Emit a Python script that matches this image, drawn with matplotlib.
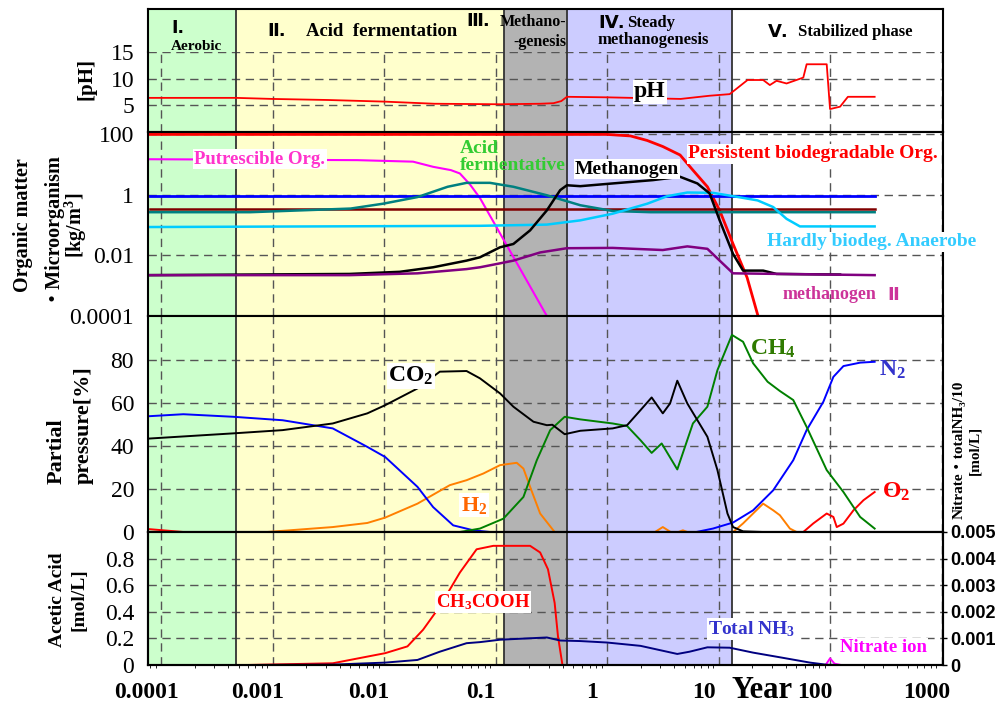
import matplotlib
matplotlib.use('Agg')
import matplotlib.pyplot as plt
import matplotlib.transforms as mtransforms
import numpy as np

plt.rcParams['font.family'] = ['Liberation Serif', 'Noto Sans CJK JP', 'DejaVu Sans']
plt.rcParams['mathtext.fontset'] = 'custom'
plt.rcParams['mathtext.rm'] = 'Liberation Serif:bold'
plt.rcParams['mathtext.it'] = 'Liberation Serif:bold'
plt.rcParams['mathtext.bf'] = 'Liberation Serif:bold'

W, H = 999, 704
ROMAN = ['DejaVu Sans', 'Noto Sans CJK JP']

# --- phases (log10 year) ---
phase_edges = [-4.117, -3.327, -0.924, -0.359, 1.121, 3.013]
phase_colors = ['#CCFFCC', '#FFFFCC', '#B3B3B3', '#CCCCFF', '#FFFFFF']
decades = [1e-4, 1e-3, 1e-2, 1e-1, 1, 10, 100, 1000]
decade_labels = ['0.0001', '0.001', '0.01', '0.1', '1', '10', '100', '1000']

# --- pH ---
ph_t = [-4.10, -3.33, -3.00, -2.50, -2.00, -1.55, -0.96, -0.60, -0.48, -0.41, -0.36, 0.0,
        0.66, 0.92, 1.10, 1.26, 1.40, 1.46, 1.52, 1.61, 1.76, 1.79, 1.97, 2.00, 2.09, 2.16, 2.40]
ph_v = [6.4, 6.4, 6.2, 6.0, 5.7, 5.3, 5.2, 5.3, 5.4, 5.8, 6.6, 6.5,
        6.2, 6.8, 7.1, 9.75, 9.75, 8.8, 9.6, 9.1, 10.2, 12.7, 12.7, 4.3, 4.75, 6.6, 6.6]

# --- organic matter / microorganism (log10 kg/m3) ---
persist_t = [-4.10, 0.00, 0.21, 0.36, 0.50, 0.655, 0.77, 0.90, 1.01, 1.13, 1.256, 1.354]
persist_c = [2.0, 2.0, 1.95, 1.80, 1.60, 1.32, 0.82, 0.27, -0.51, -1.62, -2.73, -4.0]
putres_t = [-4.10, -2.24, -1.74, -1.56, -1.40, -1.32, -1.23, -1.14, -0.54]
putres_c = [1.18, 1.15, 1.10, 0.93, 0.82, 0.71, 0.35, -0.10, -4.0]
hydro_t = [-4.10, 2.40]
hydro_c = [-0.044, -0.044]
maroon_t = [-4.10, 2.40]
maroon_c = [-0.466, -0.466]
acidf_t = [-4.10, -3.20, -2.30, -2.01, -1.70, -1.43, -1.26, -1.05, -0.84, -0.54, -0.24, 0.05, 0.39, 2.40]
acidf_c = [-0.57, -0.57, -0.45, -0.29, -0.07, 0.27, 0.40, 0.40, 0.27, -0.01, -0.34, -0.53, -0.57, -0.57]
hardly_t = [-4.10, -1.14, -0.54, -0.24, 0.05, 0.36, 0.54, 0.72, 0.95, 1.13, 1.35, 1.49, 1.61, 1.73, 2.40]
hardly_c = [-1.06, -1.02, -0.98, -0.84, -0.62, -0.29, -0.04, 0.08, 0.07, -0.04, -0.18, -0.40, -0.79, -1.04, -1.04]
meth_t = [-4.10, -2.31, -1.86, -1.56, -1.26, -1.14, -0.96, -0.84, -0.69, -0.54, -0.42, -0.36, -0.24,
          0.05, 0.41, 0.655, 0.81, 0.92, 1.01, 1.13, 1.22, 1.40, 1.52, 2.09]
meth_c = [-2.65, -2.61, -2.54, -2.39, -2.17, -2.06, -1.73, -1.62, -1.17, -0.51, 0.16, 0.32, 0.29,
          0.38, 0.49, 0.60, 0.38, 0.05, -0.84, -1.95, -2.50, -2.50, -2.61, -2.63]
meth2_t = [-4.10, -2.31, -1.70, -1.26, -1.14, -0.96, -0.84, -0.60, -0.36, 0.05, 0.50, 0.72, 0.90, 1.01, 1.13, 2.40]
meth2_c = [-2.65, -2.65, -2.59, -2.45, -2.39, -2.26, -2.17, -1.90, -1.76, -1.75, -1.82, -1.70, -1.78, -2.17, -2.59, -2.65]

# --- partial pressure [%] ---
co2_t = [-4.10, -3.35, -2.91, -2.46, -2.15, -1.99, -1.70, -1.50, -1.26, -1.14, -0.96, -0.84, -0.66, -0.54,
         -0.49, -0.38, -0.24, 0.05, 0.18, 0.30, 0.40, 0.50, 0.565, 0.63, 0.72, 0.90, 0.99, 1.08, 1.13, 1.22, 1.40]
co2_v = [43.5, 45.9, 47.4, 50.5, 55.2, 59.0, 66.8, 74.6, 74.9, 71.5, 64.5, 58.3, 51.3, 49.7,
         49.9, 45.5, 47.1, 48.2, 49.7, 56.7, 62.6, 55.2, 59.8, 70.4, 59.8, 44.3, 28.8, 8.6, 2.3, 0.3, 0.0]
n2_t = [-4.10, -3.80, -3.35, -2.91, -2.46, -2.15, -1.99, -1.70, -1.56, -1.38, -1.20, -1.05, 0.80, 0.95,
        1.13, 1.31, 1.49, 1.67, 1.79, 1.94, 2.03, 2.12, 2.27, 2.40]
n2_v = [53.9, 54.8, 53.6, 52.0, 48.2, 39.6, 34.9, 21.0, 11.6, 3.1, 0.8, 0.0, 0.0, 1.6,
        4.4, 10.1, 19.4, 33.4, 47.4, 60.6, 72.2, 77.2, 78.8, 79.2]
ch4_t = [-4.10, -1.32, -1.14, -0.93, -0.75, -0.63, -0.51, -0.38, -0.24, 0.05, 0.18, 0.30, 0.40, 0.49, 0.63,
         0.77, 0.90, 0.99, 1.12, 1.22, 1.31, 1.44, 1.55, 1.67, 1.79, 1.97, 2.12, 2.27, 2.40]
ch4_v = [0, 0, 1.6, 6.2, 16.3, 33.4, 47.4, 53.6, 52.4, 50.5, 49.3, 42.7, 36.8, 41.2, 29.1,
         50.5, 58.3, 75.3, 91.7, 88.5, 78.5, 69.9, 65.6, 61.4, 48.9, 28.8, 18.6, 7.0, 1.6]
h2_t = [-4.10, -3.05, -2.46, -2.15, -1.99, -1.70, -1.41, -1.26, -1.11, -0.96, -0.81, -0.75, -0.69, -0.60, -0.47,
        0.43, 0.50, 0.57, 0.64, 0.68, 0.72, 1.13, 1.22, 1.40, 1.49, 1.55, 1.64, 1.70, 2.40]
h2_v = [0, 0, 2.3, 4.2, 6.7, 13.2, 21.8, 24.1, 27.2, 31.1, 32.2, 29.5, 21.0, 8.6, 0,
        0, 2.3, 0, 0, 0.8, 0, 0, 4.0, 13.2, 10.1, 7.8, 1.6, 0, 0]
o2_t = [-4.10, -3.80, 1.76, 1.85, 1.97, 2.03, 2.06, 2.12, 2.21, 2.30, 2.40]
o2_v = [1.3, 0, 0, 4.0, 8.6, 7.0, 2.3, 3.9, 10.1, 14.8, 18.6]

# --- acetic acid [mol/L] and nitrate / NH3 [mol/L] ---
acetic_t = [-3.23, -2.46, -1.99, -1.79, -1.65, -1.50, -1.32, -1.17, -1.02, -0.69, -0.60, -0.53, -0.47, -0.44, -0.40]
acetic_v = [0, 0.013, 0.089, 0.14, 0.265, 0.44, 0.695, 0.87, 0.896, 0.896, 0.846, 0.72, 0.467, 0.215, 0]
nh3_t = [-3.23, -2.46, -1.99, -1.70, -1.50, -1.26, -1.14, -0.96, -0.54, -0.42, -0.24, 0.0, 0.30, 0.63,
         0.74, 0.90, 1.10, 1.31, 1.55, 1.82, 1.97, 2.09, 2.40]
nh3_v = [0, 0.000015, 0.00009, 0.00019, 0.0005, 0.00082, 0.00086, 0.00095, 0.001035, 0.00092, 0.0009, 0.000845,
         0.00072, 0.000415, 0.0005, 0.000665, 0.00065, 0.000465, 0.00029, 0.00009, 0.00001, 0, 0]
nitrate_t = [-4.10, 1.96, 2.00, 2.04, 2.10, 2.40]
nitrate_v = [0, 0, 0.00025, 0.00005, 0, 0]


def yr(t):
    return 10 ** np.asarray(t)


fig = plt.figure(figsize=(W / 100, H / 100), dpi=100)
X_LIM = (10 ** phase_edges[0], 10 ** phase_edges[-1])


def add_panel(top, bottom):
    ax = fig.add_axes([148 / W, 1 - bottom / H, 795 / W, (bottom - top) / H])
    ax.set_xscale('log')
    ax.set_xlim(*X_LIM)
    for i, c in enumerate(phase_colors):
        ax.axvspan(10 ** phase_edges[i], 10 ** phase_edges[i + 1], color=c, zorder=0, lw=0)
    for e in phase_edges[1:-1]:
        ax.axvline(10 ** e, color='#333333', lw=1.3, zorder=1)
    for s in ax.spines.values():
        s.set_linewidth(1.5)
        s.set_color('black')
    ax.tick_params(length=0, labelsize=17, pad=10)
    ax.minorticks_off()
    return ax


def grid(ax):
    ax.set_axisbelow(True)
    ax.set_xticks(decades)
    ax.grid(True, which='major', color='#555555', lw=1.0, ls=(0, (6, 4)))


def ftext(x, y, s, **kw):
    kw.setdefault('ha', 'center')
    kw.setdefault('va', 'center')
    kw.setdefault('fontweight', 'bold')
    return fig.text(x / W, 1 - y / H, s, **kw)


white = dict(facecolor='white', edgecolor='none', pad=1.0)

# header
ax_h = add_panel(9, 52)
ax_h.set_xticks([])
ax_h.set_yticks([])
ax_h.spines['bottom'].set_visible(False)

# pH
ax_ph = add_panel(52, 132)
grid(ax_ph)
ax_ph.set_ylim(0, 15)
ax_ph.set_yticks([5, 10, 15])
ax_ph.spines['top'].set_visible(False)
ax_ph.plot(yr(ph_t), ph_v, color='red', lw=1.3)

# organic matter
ax_o = add_panel(132, 316)
grid(ax_o)
ax_o.set_yscale('log')
ax_o.set_ylim(1e-4, 10 ** 2.08)
ax_o.set_yticks([1e-4, 1e-2, 1, 100])
ax_o.set_yticklabels(['0.0001', '0.01', '1', '100'])
ax_o.minorticks_off()
ax_o.plot(yr(persist_t), 10 ** np.array(persist_c), color='red', lw=2)
ax_o.plot(yr(putres_t), 10 ** np.array(putres_c), color='#FF00FF', lw=1.5)
ax_o.plot(yr(hydro_t), 10 ** np.array(hydro_c), color='blue', lw=2)
ax_o.plot(yr(maroon_t), 10 ** np.array(maroon_c), color='#800000', lw=1.8)
ax_o.plot(yr(acidf_t), 10 ** np.array(acidf_c), color='#008080', lw=1.8)
ax_o.plot(yr(hardly_t), 10 ** np.array(hardly_c), color='#00CCFF', lw=1.8)
ax_o.plot(yr(meth_t), 10 ** np.array(meth_c), color='black', lw=1.8)
ax_o.plot(yr(meth2_t), 10 ** np.array(meth2_c), color='#800080', lw=1.8)

# partial pressure
ax_p = add_panel(316, 532)
grid(ax_p)
ax_p.set_ylim(0, 100.5)
ax_p.set_yticks([0, 20, 40, 60, 80])
ax_p.plot(yr(o2_t), o2_v, color='red', lw=1.4)
ax_p.plot(yr(h2_t), h2_v, color='#FF7F00', lw=1.4)
ax_p.plot(yr(n2_t), n2_v, color='blue', lw=1.4)
ax_p.plot(yr(ch4_t), ch4_v, color='#008000', lw=1.4)
ax_p.plot(yr(co2_t), co2_v, color='black', lw=1.4)

# acetic acid
ax_b = add_panel(532, 665)
grid(ax_b)
ax_b.set_ylim(0, 1.0)
ax_b.set_yticks([0, 0.2, 0.4, 0.6, 0.8])
ax_b.set_yticklabels(['0', '0.2', '0.4', '0.6', '0.8'])
ax_b.plot(yr(acetic_t), acetic_v, color='red', lw=1.4)
ax_r = ax_b.twinx()
ax_r.set_xscale('log')
ax_r.set_xlim(*X_LIM)
ax_r.set_ylim(0, 0.005)
ax_r.set_yticks([0, 0.001, 0.002, 0.003, 0.004, 0.005])
ax_r.set_yticklabels(['0', '0.001', '0.002', '0.003', '0.004', '0.005'],
                     family='Liberation Sans', fontweight='bold', fontsize=13)
ax_r.tick_params(axis='y', length=3, width=1, pad=2)
for s in ax_r.spines.values():
    s.set_linewidth(1.5)
ax_r.plot(yr(nitrate_t), nitrate_v, color='#FF00FF', lw=1.4)
ax_r.plot(yr(nh3_t), nh3_v, color='#000080', lw=1.4)

for ax in (ax_ph, ax_o, ax_p):
    ax.set_xticklabels([])
ax_b.set_xticks(decades)
ax_b.set_xticklabels(decade_labels, fontweight='bold', fontsize=17)
ax_b.tick_params(axis='x', pad=12)
shift = mtransforms.ScaledTranslation(-15 / 100, 0, fig.dpi_scale_trans)
for lab in ax_b.get_xticklabels():
    lab.set_transform(lab.get_transform() + shift)

# header texts (roman numerals in a heavy sans face, like the original)
ftext(171, 28, 'Ⅰ.', fontsize=12.5, ha='left', family=ROMAN)
ftext(196, 47, 'Aerobic', fontsize=11)
ftext(267, 31, 'Ⅱ.', fontsize=13, ha='left', family=ROMAN)
ftext(457, 31, 'Acid  fermentation', fontsize=13.5, ha='right')
ftext(466, 21, 'Ⅲ.', fontsize=13, ha='left', family=ROMAN)
ftext(566, 22, 'Methano-', fontsize=11.5, ha='right')
ftext(566, 42, '-genesis', fontsize=11.5, ha='right')
ftext(598, 23, 'Ⅳ.', fontsize=13, ha='left', family=ROMAN)
ftext(627, 23, 'Steady', fontsize=12, ha='left')
ftext(598, 40, 'methanogenesis', fontsize=12, ha='left')
ftext(768, 32, 'Ⅴ.', fontsize=13, ha='left', family=ROMAN)
ftext(913, 32, 'Stabilized phase', fontsize=12, ha='right')

# axis titles
ftext(87, 79, '[pH]', fontsize=15, rotation=90)
ftext(51, 225, 'Organic matter\n・Microorganism\n[kg/m$^3$]', fontsize=14.5, rotation=90, linespacing=1.3)
ftext(70, 425, 'Partial\npressure[%]', fontsize=16, rotation=90, linespacing=1.45, multialignment='left')
ftext(68, 600, 'Acetic Acid\n[mol/L]', fontsize=14, rotation=90, linespacing=1.35)
ftext(967, 450, 'Nitrate・totalNH₃/10\n[mol/L]', fontsize=11, rotation=90, linespacing=1.35)
ftext(762, 690, 'Year', fontsize=22)

# series labels
ftext(650, 92, 'pH', fontsize=17, color='black', bbox=white)
ftext(260, 159, 'Putrescible Org.', fontsize=13.5, color='#FF33CC', bbox=white)
ftext(460, 157, 'Acid\nfermentative', fontsize=14, color='#33CC33', ha='left', linespacing=1.0)
ftext(627, 169, 'Methanogen', fontsize=14, color='black', bbox=white)
ftext(813, 154, 'Persistent biodegradable Org.', fontsize=14, color='red', bbox=white)
ftext(872, 242, 'Hardly biodeg. Anaerobe', fontsize=14, color='#33CCFF', bbox=white)
ftext(783, 295, 'methanogen', fontsize=13, color='#CC3399', ha='left')
ftext(893, 295, 'Ⅱ', fontsize=13, color='#CC3399', family=ROMAN)
ftext(411, 376, 'CO$_2$', fontsize=17, color='black', bbox=white)
ftext(474, 505, 'H$_2$', fontsize=16, color='#FF6600', bbox=white)
ftext(773, 349, 'CH$_4$', fontsize=17, color='#2F7A00')
ftext(892, 370, 'N$_2$', fontsize=17, color='#3333CC')
ftext(896, 492, 'O$_2$', fontsize=17, color='red')
ftext(483, 602, 'CH$_3$COOH', fontsize=13.5, color='red', bbox=white)
ftext(752, 629, 'Total NH$_3$', fontsize=14, color='#3333CC', bbox=white)
ftext(883, 648, 'Nitrate ion', fontsize=13.5, color='#FF00FF', bbox=white)

fig.savefig('out.png', dpi=100)
